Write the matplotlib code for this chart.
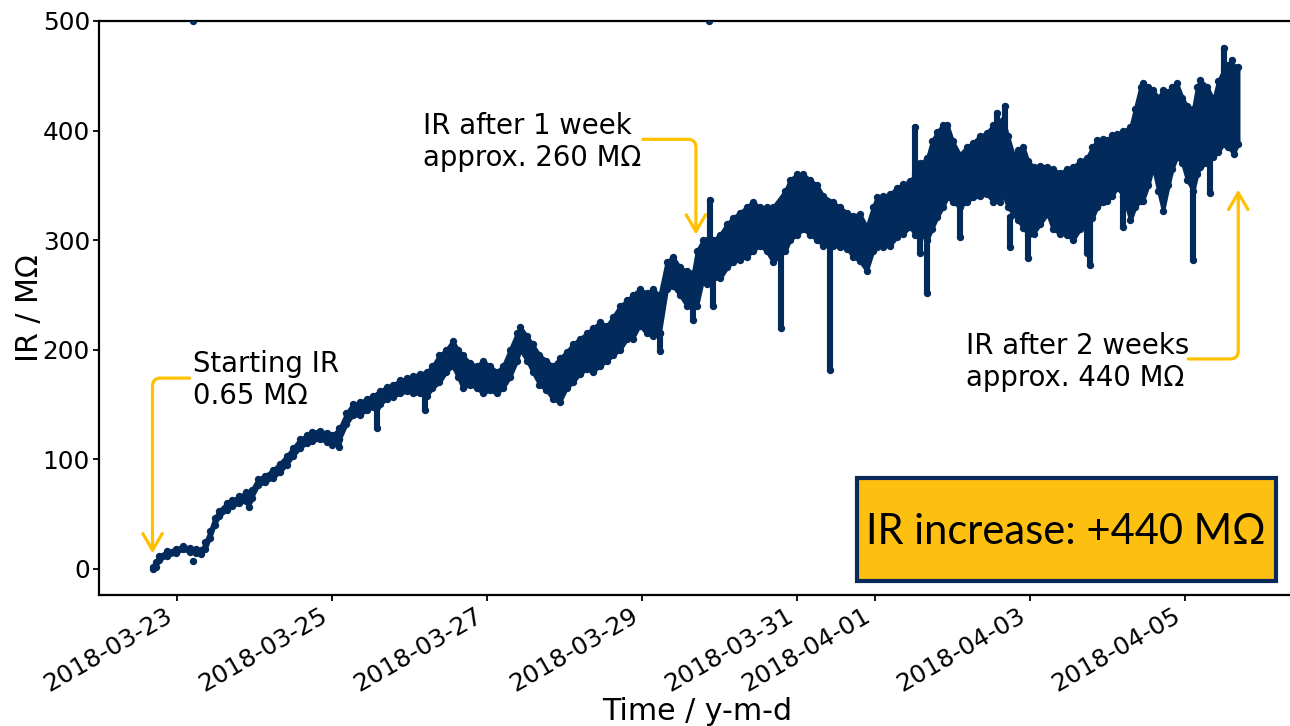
import numpy as np
import matplotlib
matplotlib.use('Agg')
import matplotlib.pyplot as plt
import matplotlib.dates as mdates
from matplotlib.patches import Rectangle

# IR log, summarised as a low/high band; days counted from 2018-03-23 00:00
ir_days = [-0.31, -0.27, -0.22, -0.12, -0.01, 0.08, 0.17, 0.25, 0.32, 0.37,
           0.43, 0.49, 0.55, 0.65, 0.72, 0.81, 0.90, 0.97, 1.05, 1.14,
           1.24, 1.33, 1.42, 1.50, 1.59, 1.68, 1.75, 1.85, 1.94, 2.01,
           2.10, 2.19, 2.27, 2.36, 2.45, 2.53, 2.62, 2.71, 2.79, 2.88,
           2.97, 3.05, 3.14, 3.23, 3.30, 3.39, 3.48, 3.56, 3.63, 3.69,
           3.78, 3.87, 3.95, 4.04, 4.13, 4.21, 4.30, 4.39, 4.43, 4.52,
           4.59, 4.68, 4.77, 4.85, 4.94, 5.03, 5.11, 5.20, 5.29, 5.37,
           5.46, 5.55, 5.63, 5.72, 5.81, 5.88, 5.97, 6.06, 6.14, 6.23,
           6.32, 6.40, 6.49, 6.58, 6.66, 6.71, 6.79, 6.84, 6.92, 7.01,
           7.10, 7.17, 7.26, 7.35, 7.43, 7.52, 7.61, 7.69, 7.85, 7.91,
           8.00, 8.08, 8.17, 8.26, 8.34, 8.46, 8.55, 8.65, 8.72, 8.81,
           8.90, 8.98, 9.03, 9.11, 9.20, 9.29, 9.37, 9.46, 9.52, 9.59,
           9.68, 9.74, 9.81, 9.88, 9.94, 10.01, 10.10, 10.19, 10.27, 10.36,
           10.45, 10.53, 10.62, 10.66, 10.72, 10.79, 10.85, 10.92, 10.98, 11.05,
           11.14, 11.23, 11.30, 11.39, 11.48, 11.56, 11.65, 11.74, 11.81, 11.87,
           11.94, 12.00, 12.06, 12.13, 12.21, 12.30, 12.36, 12.43, 12.46, 12.53,
           12.59, 12.66, 12.72, 12.79, 12.84, 12.90, 12.97, 13.03, 13.11, 13.16,
           13.20, 13.29, 13.37, 13.43, 13.50, 13.56, 13.63, 13.69]
ir_low = [0, 2, 8, 12, 14, 18, 15, 14, 13, 18,
          28, 40, 48, 54, 57, 60, 62, 65, 76, 79,
          83, 88, 95, 103, 110, 115, 117, 118, 116, 113,
          118, 132, 140, 140, 145, 148, 150, 155, 157, 160,
          162, 160, 160, 158, 165, 170, 180, 185, 175, 165,
          168, 165, 160, 163, 160, 165, 175, 190, 200, 190,
          180, 168, 163, 155, 152, 165, 170, 178, 182, 180,
          185, 190, 195, 200, 210, 210, 222, 215, 212, 215,
          255, 258, 250, 240, 240, 240, 265, 260, 265, 265,
          275, 280, 282, 285, 290, 295, 290, 280, 290, 300,
          305, 310, 305, 300, 295, 295, 294, 292, 285, 281,
          272, 290, 294, 294, 295, 303, 306, 312, 305, 305,
          300, 310, 321, 330, 339, 335, 330, 335, 339, 340,
          342, 335, 335, 342, 330, 324, 318, 311, 305, 306,
          315, 324, 310, 306, 305, 300, 310, 315, 320, 330,
          335, 336, 340, 348, 340, 318, 330, 336, 336, 350,
          367, 345, 327, 350, 365, 376, 370, 355, 345, 360,
          367, 370, 376, 380, 388, 385, 379, 388]
ir_high = [2, 6, 12, 16, 18, 21, 19, 18, 17, 24,
           34, 46, 53, 60, 63, 66, 70, 72, 82, 85,
           90, 96, 103, 110, 118, 122, 125, 126, 124, 122,
           128, 142, 150, 152, 155, 158, 162, 166, 168, 172,
           174, 176, 178, 180, 185, 195, 200, 208, 200, 195,
           188, 185, 190, 185, 180, 185, 200, 215, 221, 212,
           205, 195, 190, 185, 192, 198, 205, 210, 215, 220,
           225, 222, 230, 240, 245, 250, 255, 252, 255, 250,
           280, 285, 275, 272, 270, 290, 300, 300, 300, 305,
           315, 320, 325, 330, 335, 330, 330, 330, 345, 355,
           360, 360, 355, 350, 340, 335, 330, 325, 322, 324,
           312, 330, 339, 340, 342, 348, 351, 354, 360, 370,
           375, 390, 399, 405, 405, 390, 378, 385, 389, 395,
           398, 405, 405, 410, 395, 378, 382, 385, 372, 367,
           368, 367, 365, 361, 365, 367, 372, 375, 385, 391,
           392, 391, 396, 397, 400, 403, 420, 440, 443, 440,
           437, 430, 437, 435, 440, 443, 430, 422, 420, 440,
           446, 440, 428, 445, 455, 460, 458, 458]

# short excursions outside the band
spike_days = [0.93, 2.10, 2.58, 3.20, 6.23, 6.66, 6.88, 6.92, 7.79, 8.43,
              9.52, 9.59, 9.68, 10.10, 10.58, 10.68, 10.75, 10.98, 11.74, 11.78,
              12.21, 13.11, 13.33, 13.50, 13.61]
spike_low = [56, 111, 128, 145, 199, 227, 300, 240, 220, 181,
             350, 288, 252, 303, 390, 395, 294, 284, 288, 277,
             312, 282, 343, 440, 440]
spike_high = [62, 118, 148, 160, 215, 240, 337, 265, 300, 300,
              403, 336, 300, 336, 416, 422, 321, 310, 320, 320,
              340, 360, 376, 475, 464]

# isolated readings
single_days = [0.21, 0.21, 6.86]
single_ir = [7, 500, 500]

navy = '#022a5a'
gold = '#ffc000'
t0 = np.datetime64('2018-03-23T00:00')


def to_num(days):
    secs = np.round(np.asarray(days, dtype=float) * 86400).astype('timedelta64[s]')
    return mdates.date2num(t0 + secs)


plt.rcParams['font.family'] = ['DejaVu Sans']

fig = plt.figure(figsize=(12.9, 7.26), dpi=100)
ax = fig.add_axes([99 / 1290, 131 / 726, 1195.6 / 1290, 574 / 726])

dot = 28
x = to_num(ir_days)
ax.fill_between(x, ir_low, ir_high, facecolor=navy, edgecolor=navy, lw=2.5,
                joinstyle='round', zorder=2)
ax.scatter(x, ir_low, s=dot, color=navy, lw=0, zorder=3)
ax.scatter(x, ir_high, s=dot, color=navy, lw=0, zorder=3)

xs = to_num(spike_days)
ax.vlines(xs, spike_low, spike_high, color=navy, lw=4.4, capstyle='round', zorder=3)
ax.scatter(xs, spike_low, s=dot, color=navy, lw=0, zorder=3)
ax.scatter(xs, spike_high, s=dot, color=navy, lw=0, zorder=3)
ax.scatter(to_num(single_days), single_ir, s=dot, color=navy, lw=0, zorder=3)

ax.set_xlim(mdates.date2num(np.datetime64('2018-03-22T00:00')),
            mdates.date2num(np.datetime64('2018-04-06T10:00')))
ax.set_ylim(-24, 500)
ax.set_yticks([0, 100, 200, 300, 400, 500])

ax.xaxis.set_major_locator(mdates.DayLocator(bymonthday=range(1, 32, 2)))
ax.xaxis.set_major_formatter(mdates.DateFormatter('%Y-%m-%d'))
for lbl in ax.get_xticklabels():
    lbl.set_rotation(30)
    lbl.set_ha('right')

ax.tick_params(labelsize=17.8, length=4.5, width=1.3, pad=2, color='black')
for side in ['left', 'bottom', 'top']:
    ax.spines[side].set_linewidth(1.6)
ax.spines['right'].set_visible(False)

ax.set_xlabel('Time / y-m-d', fontsize=21.6)
ax.xaxis.set_label_coords(0.5, -0.177)
ax.set_ylabel('IR / MΩ', fontsize=21.6)
ax.yaxis.set_label_coords(-0.046, 0.5)

# annotations with elbow arrows
elbow = dict(arrowstyle='->,head_length=0.6,head_width=0.35', color=gold, lw=2.3,
             shrinkA=0, shrinkB=0, mutation_scale=20,
             connectionstyle='angle,angleA=0,angleB=90,rad=8')

ax.text(to_num(0.206), 200, 'Starting IR\n0.65 MΩ', fontsize=19.8, va='top', ha='left')
ax.annotate('', xy=(to_num(-0.31), 14), xytext=(to_num(0.168), 174), arrowprops=elbow)

ax.text(to_num(3.174), 417, 'IR after 1 week\napprox. 260 MΩ', fontsize=19.8, va='top', ha='left')
ax.annotate('', xy=(to_num(6.697), 305), xytext=(to_num(6.013), 392), arrowprops=elbow)

ax.text(to_num(10.18), 216, 'IR after 2 weeks\napprox. 440 MΩ', fontsize=19.8, va='top', ha='left')
ax.annotate('', xy=(to_num(13.69), 346), xytext=(to_num(13.045), 191.5), arrowprops=elbow)

# summary box
fig.patches.append(Rectangle((857 / 1290, 145 / 726), 419 / 1290, 103 / 726,
                             transform=fig.transFigure, facecolor='#fdc010',
                             edgecolor='#0b2a5b', lw=3, zorder=5))
fig.text(1066 / 1290, 182 / 726, 'IR increase: +440 MΩ', fontsize=30,
         family=['Lato', 'DejaVu Sans'], ha='center', va='baseline', zorder=6)

fig.savefig('out.png', dpi=100)
